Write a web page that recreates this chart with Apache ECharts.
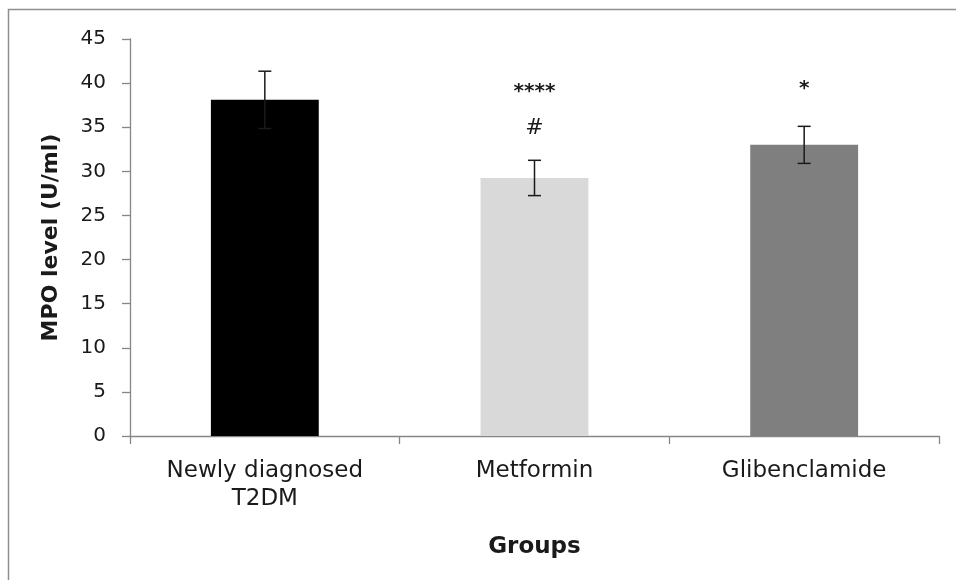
<!DOCTYPE html>
<html>
<head>
<meta charset="utf-8">
<script src="https://cdn.jsdelivr.net/npm/echarts@6/dist/echarts.min.js"></script>
<style>
html,body{margin:0;padding:0;background:#fff;}
#chart{width:956px;height:580px;}
</style>
</head>
<body>
<div id="chart"></div>
<script>
// ---- data ----
const categories = ['Newly diagnosed\nT2DM', 'Metformin', 'Glibenclamide'];
const means = [38.1, 29.25, 33.0];
const errors = [3.25, 2.0, 2.1];
const barColors = ['#000000', '#d9d9d9', '#7f7f7f'];
const yTicks = {min: 0, max: 45, interval: 5};
// significance annotations: [category index, y position (value units), text]
const annotations = [
  [1, 39.0, '****'],
  [1, 34.9, '#'],
  [2, 39.3, '*']
];

const chart = echarts.init(document.getElementById('chart'));
const txt = '#1a1a1a';
const axisGray = '#868686';

chart.setOption({
  animation: false,
  backgroundColor: '#ffffff',
  graphic: [{
    type: 'rect',
    shape: {x: 8.5, y: 9.5, width: 980, height: 620},
    style: {fill: 'none', stroke: '#8f8f8f', lineWidth: 1.5},
    silent: true
  }],
  grid: {left: 130, right: 17, top: 39, bottom: 144, containLabel: false},
  xAxis: {
    type: 'category',
    data: categories,
    name: 'Groups',
    nameLocation: 'middle',
    nameGap: 100,
    nameTextStyle: {fontFamily: 'DejaVu Sans', fontWeight: 'bold', fontSize: 23, color: txt},
    axisLine: {lineStyle: {color: axisGray, width: 1.3}},
    axisTick: {show: true, length: 8, alignWithLabel: false, lineStyle: {color: axisGray, width: 1.3}},
    axisLabel: {fontFamily: 'DejaVu Sans', fontSize: 23, color: txt, lineHeight: 28, margin: 21, interval: 0}
  },
  yAxis: {
    type: 'value',
    min: yTicks.min, max: yTicks.max, interval: yTicks.interval,
    name: 'MPO level (U/ml)',
    nameLocation: 'middle',
    nameGap: 68,
    nameRotate: 90,
    nameTextStyle: {fontFamily: 'DejaVu Sans', fontWeight: 'bold', fontSize: 22, color: txt},
    axisLine: {show: true, lineStyle: {color: axisGray, width: 1.3}},
    axisTick: {show: true, length: 8, lineStyle: {color: axisGray, width: 1.3}},
    splitLine: {show: false},
    axisLabel: {fontFamily: 'DejaVu Sans', fontSize: 20, color: txt, margin: 24}
  },
  series: [
    {
      type: 'bar',
      data: means.map((v, i) => ({value: v, itemStyle: {color: barColors[i]}})),
      barWidth: '40%'
    },
    {
      type: 'custom',
      data: means.map((v, i) => [i, v, errors[i]]),
      renderItem: function (params, api) {
        const x = api.value(0), m = api.value(1), e = api.value(2);
        const top = api.coord([x, m + e]);
        const bot = api.coord([x, m - e]);
        const cw = 6.5;
        const st = {stroke: '#1a1a1a', lineWidth: 1.5};
        return {
          type: 'group',
          children: [
            {type: 'line', shape: {x1: top[0], y1: top[1], x2: bot[0], y2: bot[1]}, style: st},
            {type: 'line', shape: {x1: top[0] - cw, y1: top[1], x2: top[0] + cw, y2: top[1]}, style: st},
            {type: 'line', shape: {x1: bot[0] - cw, y1: bot[1], x2: bot[0] + cw, y2: bot[1]}, style: st}
          ]
        };
      },
      z: 5
    },
    {
      type: 'custom',
      data: annotations,
      renderItem: function (params, api) {
        const p = api.coord([api.value(0), api.value(1)]);
        const t = annotations[params.dataIndex][2];
        return {
          type: 'text',
          x: p[0], y: p[1],
          style: {
            text: t,
            fontFamily: 'DejaVu Sans',
            fontWeight: t === '#' ? 'normal' : 'bold',
            fontSize: t === '#' ? 22 : 20,
            fill: txt,
            align: 'center',
            verticalAlign: 'middle'
          }
        };
      },
      z: 6
    }
  ]
});
</script>
</body>
</html>
